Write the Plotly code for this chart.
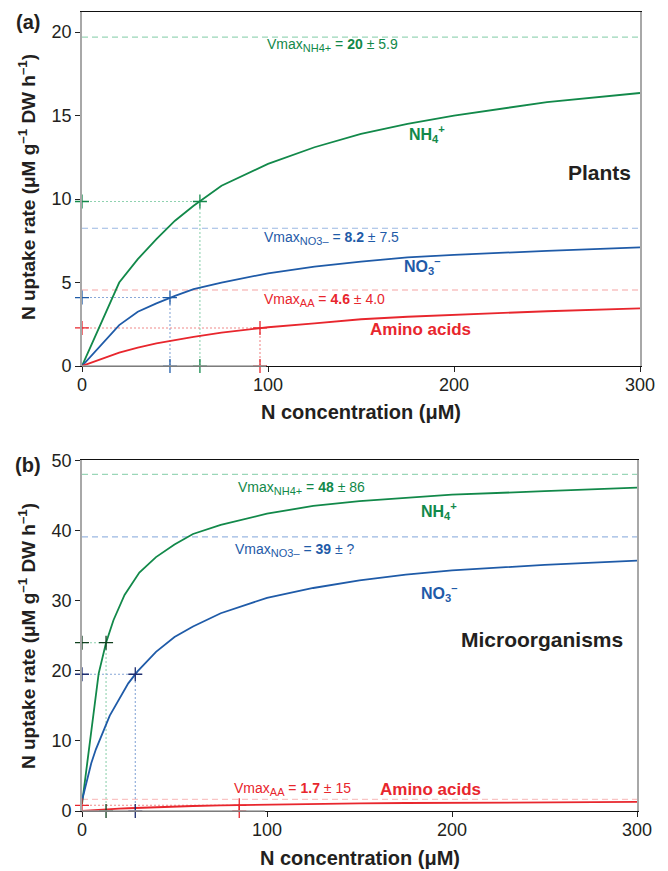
import plotly.graph_objects as go

# ---------------- data ----------------
conc_plants = [0, 20, 30, 40, 50, 60, 75, 100, 125, 150, 175, 200, 250, 300]
plants_nh4 = [0, 5.0, 6.4, 7.6, 8.7, 9.6, 10.8, 12.1, 13.1, 13.9, 14.5, 15.0, 15.8, 16.35]
plants_no3 = [0, 2.45, 3.25, 3.75, 4.2, 4.6, 5.0, 5.55, 5.95, 6.25, 6.5, 6.65, 6.9, 7.1]
plants_aa = [0, 0.8, 1.1, 1.35, 1.55, 1.75, 2.0, 2.32, 2.55, 2.8, 2.95, 3.07, 3.28, 3.45]

conc_micro_nh4 = [0, 9, 13, 17, 23, 31, 40, 50, 60, 75, 100, 125, 150, 175, 200, 250, 300]
micro_nh4 = [1.0, 19.6, 24.0, 27.2, 30.8, 34.0, 36.2, 38.0, 39.5, 40.8, 42.4, 43.5, 44.2, 44.7, 45.1, 45.6, 46.1]
conc_micro = [0, 2.5, 5, 7.5, 10, 12.5, 15, 20, 25, 30, 40, 50, 60, 75, 100, 125, 150, 175, 200, 250, 300]
micro_no3 = [1.5, 4.0, 6.8, 8.8, 10.5, 12.0, 13.6, 16.0, 18.2, 19.9, 22.7, 24.8, 26.3, 28.2, 30.4, 31.8, 32.9, 33.7, 34.3, 35.1, 35.7]
micro_aa = [0.0, 0.05, 0.1, 0.14, 0.18, 0.22, 0.26, 0.33, 0.39, 0.45, 0.55, 0.64, 0.71, 0.8, 0.92, 1.01, 1.08, 1.14, 1.19, 1.25, 1.29]

# order: NH4+, NO3-, amino acids
plants_vmax = [19.7, 8.25, 4.55]
plants_km = [63.4, 47.3, 95.7]
plants_half = [9.85, 4.1, 2.28]
micro_vmax = [48.0, 39.1, 1.67]
micro_km = [13.0, 28.8, 85.0]
micro_half = [24.0, 19.5, 0.81]

x_ticks = [0, 100, 200, 300]
plants_y_ticks = [0, 5, 10, 15, 20]
micro_y_ticks = [0, 10, 20, 30, 40, 50]

SUB = "<sub><span style='font-size:11px'>{}</span></sub>"
vmax_text_plants = ["Vmax" + SUB.format("NH4+") + " = <b>20</b> ± 5.9",
                    "Vmax" + SUB.format("NO3–") + " = <b>8.2</b> ± 7.5",
                    "Vmax" + SUB.format("AA") + " = <b>4.6</b> ± 4.0"]
vmax_text_micro = ["Vmax" + SUB.format("NH4+") + " = <b>48</b> ± 86",
                   "Vmax" + SUB.format("NO3–") + " = <b>39</b> ± ?",
                   "Vmax" + SUB.format("AA") + " = <b>1.7</b> ± 15"]

# ---------------- styles ----------------
GREEN = "#12894a"
BLUE = "#1f5ba8"
RED = "#e8262d"
COLS = [GREEN, BLUE, RED]
DASH_COLS_P = ["#9ad6b8", "#9bb8e2", "#f6a3a3"]
DASH_COLS_M = ["#9ad6b8", "#9bb8e2", "#f9c4c4"]
DOT_COLS = ["#8fd2b0", "#88a8d8", "#f08a8a"]
CROSS_AX_M = ["#10401f", "#1d2d70", RED]
TXT = "#231f20"
FONT = "Liberation Sans, Arial, sans-serif"

W, H = 668, 871
ML, MR, MT, MB = 82, 28, 12, 60
PW = W - ML - MR
PH = H - MT - MB


def px2paper(px, py):
    return (px - ML) / PW, 1 - (py - MT) / PH


top_dom = [1 - (366 - MT) / PH, 1.0]
bot_dom = [0.0, 1 - (460 - MT) / PH]
bot_xdom = [0.0, (637 - ML) / PW]

fig = go.Figure()


def add_panel(xa, ya, conc_list, curves, vmax, km, half, dash_cols, cross_ax_cols, right_ticks):
    # Vmax dashed lines
    for i in range(3):
        fig.add_trace(go.Scatter(x=[x_ticks[0], x_ticks[-1]], y=[vmax[i], vmax[i]], mode="lines",
                                 line=dict(color=dash_cols[i], width=1.2, dash="6px,4px"),
                                 xaxis=xa, yaxis=ya, showlegend=False, hoverinfo="skip"))
    # dotted guide lines
    for i in range(3):
        fig.add_trace(go.Scatter(x=[0, km[i]], y=[half[i], half[i]], mode="lines",
                                 line=dict(color=DOT_COLS[i], width=1.1, dash="2px,2px"),
                                 xaxis=xa, yaxis=ya, showlegend=False, hoverinfo="skip"))
        fig.add_trace(go.Scatter(x=[km[i], km[i]], y=[0, half[i]], mode="lines",
                                 line=dict(color=DOT_COLS[i], width=1.1, dash="2px,2px"),
                                 xaxis=xa, yaxis=ya, showlegend=False, hoverinfo="skip"))
    # curves
    for i, (cx, cy) in enumerate(zip(conc_list, curves)):
        fig.add_trace(go.Scatter(x=cx, y=cy, mode="lines", line=dict(color=COLS[i], width=1.8),
                                 xaxis=xa, yaxis=ya, showlegend=False, hoverinfo="skip",
                                 cliponaxis=False))
    # crosses
    for i in range(3):
        fig.add_trace(go.Scatter(x=[0, km[i]], y=[half[i], 0], mode="markers",
                                 marker=dict(symbol="cross-thin", size=10,
                                             line=dict(color=cross_ax_cols[i], width=1.3)),
                                 xaxis=xa, yaxis=ya, showlegend=False, hoverinfo="skip",
                                 cliponaxis=False))
        fig.add_trace(go.Scatter(x=[km[i]], y=[half[i]], mode="markers",
                                 marker=dict(symbol="cross-thin", size=10,
                                             line=dict(color=cross_ax_cols[i] if xa == "x2" else COLS[i], width=1.3)),
                                 xaxis=xa, yaxis=ya, showlegend=False, hoverinfo="skip",
                                 cliponaxis=False))
    if right_ticks:
        fig.add_trace(go.Scatter(x=[x_ticks[-1] * 1.006] * 3, y=vmax, mode="markers",
                                 marker=dict(symbol="line-ew", size=6,
                                             line=dict(color=COLS, width=1.5)),
                                 xaxis=xa, yaxis=ya, showlegend=False, hoverinfo="skip",
                                 cliponaxis=False))


add_panel("x", "y", [conc_plants] * 3, [plants_nh4, plants_no3, plants_aa],
          plants_vmax, plants_km, plants_half, DASH_COLS_P, COLS, False)
add_panel("x2", "y2", [conc_micro_nh4, conc_micro, conc_micro], [micro_nh4, micro_no3, micro_aa],
          micro_vmax, micro_km, micro_half, DASH_COLS_M, CROSS_AX_M, True)

axis_common = dict(showgrid=False, zeroline=False, ticks="outside", ticklen=5, tickwidth=1,
                   tickcolor="#222", tickfont=dict(family=FONT, size=18, color=TXT),
                   automargin=False)
xcommon = dict(axis_common, showline=True, linecolor="#111", linewidth=1, mirror=True,
               tickvals=x_ticks, range=[0, 300], ticklabelstandoff=-3)
fig.update_layout(
    width=W, height=H, margin=dict(l=ML, r=MR, t=MT, b=MB, autoexpand=False),
    paper_bgcolor="white", plot_bgcolor="white",
    font=dict(family=FONT, color=TXT),
    xaxis=dict(xcommon, domain=[0, 1], anchor="y"),
    yaxis=dict(axis_common, domain=top_dom, anchor="x", range=[0, 21.2], tickvals=plants_y_ticks,
               showline=True, linecolor="#a8a8a8", linewidth=1.7, mirror=True),
    xaxis2=dict(xcommon, domain=bot_xdom, anchor="y2"),
    yaxis2=dict(axis_common, domain=bot_dom, anchor="x2", range=[0, 50.05], tickvals=micro_y_ticks,
                showline=True, linecolor="#a8a8a8", linewidth=1.7, mirror=True),
)

# gray segment of the x axis from 0 to 100
fig.add_shape(type="line", xref="x", yref="paper", x0=0, x1=99, y0=top_dom[0], y1=top_dom[0],
              line=dict(color="#a0a0a0", width=1.5))
fig.add_shape(type="line", xref="x2", yref="paper", x0=0, x1=99, y0=bot_dom[0], y1=bot_dom[0],
              line=dict(color="#a0a0a0", width=1.5))

ann = []


def add_text(text, x, y, xref, yref, size, color, xanchor="left", yanchor="middle", textangle=0):
    ann.append(dict(text=text, x=x, y=y, xref=xref, yref=yref, showarrow=False,
                    font=dict(family=FONT, size=size, color=color), xanchor=xanchor,
                    yanchor=yanchor, textangle=textangle))


# panel letters
for lab, py in [("<b>(a)</b>", 22), ("<b>(b)</b>", 465)]:
    px_, py_ = px2paper(28, py)
    add_text(lab, px_, py_, "paper", "paper", 20, TXT, xanchor="center")

# axis titles
ytitle = "<b>N uptake rate (μM g<sup>–1</sup> DW h<sup>–1</sup>)</b>"
for py in [187, 636]:
    px_, py_ = px2paper(27, py)
    add_text(ytitle, px_, py_, "paper", "paper", 19, TXT, xanchor="center", textangle=-90)
for py, cx in [(412, 361), (858, 360)]:
    px_, py_ = px2paper(cx, py)
    add_text("<b>N concentration (μM)</b>", px_, py_, "paper", "paper", 20, TXT, xanchor="center")

# plants labels
add_text(vmax_text_plants[0], 98.4, 19.2, "x", "y", 14, GREEN)
add_text("<b>NH<sub>4</sub><sup>+</sup></b>", 174.5, 13.9, "x", "y", 16, GREEN)
add_text("<b>Plants</b>", 296, 11.6, "x", "y", 21, TXT, xanchor="right")
add_text(vmax_text_plants[1], 96.8, 7.65, "x", "y", 14, BLUE)
add_text("<b>NO<sub>3</sub><sup>–</sup></b>", 172, 6.0, "x", "y", 16, BLUE)
add_text(vmax_text_plants[2], 96.8, 3.95, "x", "y", 14, RED)
add_text("<b>Amino acids</b>", 153.5, 2.2, "x", "y", 17, RED)

# micro labels
add_text(vmax_text_micro[0], 83.2, 46.0, "x2", "y2", 14, GREEN)
add_text("<b>NH<sub>4</sub><sup>+</sup></b>", 182, 42.8, "x2", "y2", 16, GREEN)
add_text(vmax_text_micro[1], 81.6, 37.2, "x2", "y2", 14, BLUE)
add_text("<b>NO<sub>3</sub><sup>–</sup></b>", 182, 31.1, "x2", "y2", 16, BLUE)
add_text("<b>Microorganisms</b>", 293.5, 24.4, "x2", "y2", 21, TXT, xanchor="right")
add_text(vmax_text_micro[2], 81, 3.2, "x2", "y2", 14, RED)
add_text("<b>Amino acids</b>", 160, 3.1, "x2", "y2", 17, RED)

fig.update_layout(annotations=ann)
fig.write_html("out.html")
